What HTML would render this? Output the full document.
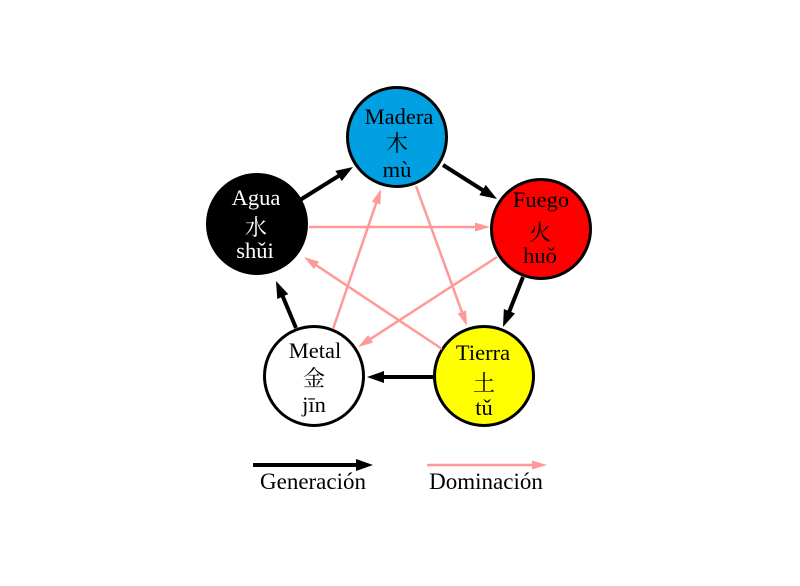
<!DOCTYPE html>
<html>
<head>
<meta charset="utf-8">
<style>
  html, body { margin: 0; padding: 0; background: #ffffff; }
  body { width: 800px; height: 586px; overflow: hidden; }
  svg { display: block; }
  .t { font-family: "Liberation Serif", "Noto Serif CJK SC", serif; font-size: 22.5px; text-anchor: middle; }
  .c { font-family: "Liberation Serif", "Noto Serif CJK SC", "Noto Sans CJK SC", serif; font-size: 22px; text-anchor: middle; }
  .lg { font-family: "Liberation Serif", serif; font-size: 23px; text-anchor: middle; fill: #000; }
</style>
</head>
<body>
<svg width="800" height="586" viewBox="0 0 800 586" xmlns="http://www.w3.org/2000/svg">
  <rect x="0" y="0" width="800" height="586" fill="#ffffff"/>

  <!-- Circles -->
  <circle cx="397" cy="137" r="49.5" fill="#00a0e3" stroke="#000" stroke-width="3"/>
  <circle cx="257" cy="224" r="49.5" fill="#000000" stroke="#000" stroke-width="3"/>
  <circle cx="541" cy="229" r="49.5" fill="#ff0000" stroke="#000" stroke-width="3"/>
  <circle cx="484" cy="376" r="49.5" fill="#ffff00" stroke="#000" stroke-width="3"/>
  <circle cx="314" cy="376" r="49.5" fill="#ffffff" stroke="#000" stroke-width="3"/>

  <!-- Domination (pink) arrows -->
  <g stroke="#ff9999" stroke-width="2.5" fill="none">
    <line x1="309" y1="227" x2="476" y2="227"/>
    <line x1="416" y1="186" x2="462.2" y2="312.8"/>
    <line x1="497" y1="257" x2="369.8" y2="339.4"/>
    <line x1="442" y1="349" x2="315.6" y2="264.8"/>
    <line x1="333" y1="329" x2="376.5" y2="202.2"/>
  </g>
  <g fill="#ff9999" stroke="none">
    <polygon points="475,222.5 490,227 475,231.5"/>
    <polygon points="457.64,313.44 467,326 466.10,310.36"/>
    <polygon points="368.15,335.07 358,347 373.03,342.63"/>
    <polygon points="318.98,261.59 304,257 313.98,269.07"/>
    <polygon points="380.40,204.65 381,189 371.88,201.73"/>
  </g>

  <!-- Generation (black) arrows -->
  <g stroke="#000" stroke-width="4" fill="none">
    <line x1="300" y1="200" x2="339.2" y2="175.6"/>
    <line x1="443" y1="165" x2="483.2" y2="190.4"/>
    <line x1="523" y1="277" x2="509.2" y2="311.8"/>
    <line x1="433" y1="377" x2="383" y2="377"/>
    <line x1="296" y1="328" x2="282.6" y2="296"/>
  </g>
  <g fill="#000" stroke="none">
    <polygon points="341.74,181.08 353,167 335.40,170.90"/>
    <polygon points="479.40,195.10 497,199 485.74,184.92"/>
    <polygon points="503.87,308.99 503,327 514.99,313.53"/>
    <polygon points="384,371 367,377 384,383"/>
    <polygon points="288.27,294.18 276,281 277.27,298.96"/>
  </g>

  <!-- Labels: Madera -->
  <text class="t" x="399" y="124" fill="#000">Madera</text>
  <text class="c" x="397" y="151" fill="#000">木</text>
  <text class="t" x="397" y="177" fill="#000">mù</text>

  <!-- Agua -->
  <text class="t" x="256" y="205" fill="#fff">Agua</text>
  <text class="c" x="256" y="235" fill="#fff">水</text>
  <text class="t" x="255" y="258" fill="#fff">shǔi</text>

  <!-- Fuego -->
  <text class="t" x="541" y="207" fill="#000">Fuego</text>
  <text class="c" x="540" y="240" fill="#000">火</text>
  <text class="t" x="540" y="263" fill="#000">huǒ</text>

  <!-- Tierra -->
  <text class="t" x="483" y="360" fill="#000">Tierra</text>
  <text class="c" x="484" y="391" fill="#000">土</text>
  <text class="t" x="484" y="415" fill="#000">tǔ</text>

  <!-- Metal -->
  <text class="t" x="315" y="358" fill="#000">Metal</text>
  <text class="c" x="314" y="386" fill="#000">金</text>
  <text class="t" x="314" y="412" fill="#000">jīn</text>

  <!-- Legend -->
  <line x1="253" y1="465" x2="357" y2="465" stroke="#000" stroke-width="4"/>
  <polygon points="356,459 373,465 356,471" fill="#000"/>
  <line x1="427" y1="465" x2="533" y2="465" stroke="#ff9999" stroke-width="2.5"/>
  <polygon points="532,460.5 547,465 532,469.5" fill="#ff9999"/>
  <text class="lg" x="313" y="489">Generación</text>
  <text class="lg" x="486" y="489">Dominación</text>
</svg>
</body>
</html>
